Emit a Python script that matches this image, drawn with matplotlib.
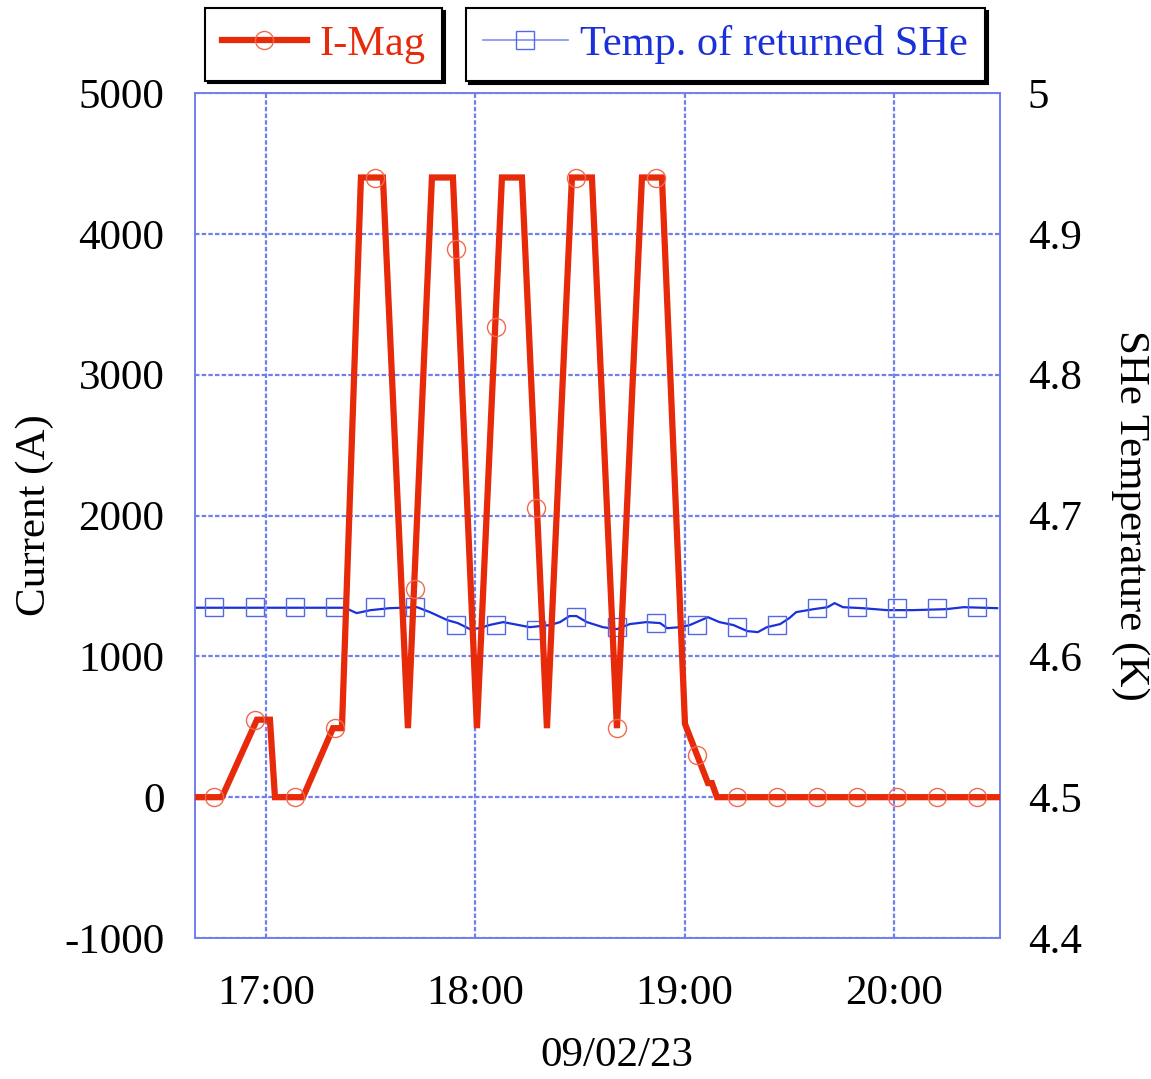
import numpy as np
import pandas as pd
import matplotlib
matplotlib.use('Agg')
import matplotlib.pyplot as plt
import matplotlib.dates as mdates
from matplotlib.lines import Line2D

DAY = '2023-02-09 '

# I-Mag trace (time, current in A)
imag_t = ['16:39:40', '16:47:23', '16:57:25', '17:01:09', '17:02:35', '17:10:37',
          '17:19:13', '17:21:47', '17:27:14', '17:33:32', '17:40:42', '17:47:35',
          '17:53:36', '18:00:29', '18:07:39', '18:13:23', '18:20:33', '18:27:43',
          '18:33:27', '18:40:37', '18:47:47', '18:53:31', '19:00:07', '19:06:42',
          '19:07:50', '19:09:17', '20:30:25']
imag_v = [0, 0, 550, 550, 0, 0,
          490, 490, 4400, 4400, 490, 4400,
          4400, 490, 4400, 4400, 490, 4400,
          4400, 490, 4400, 4400, 520, 100,
          100, 0, 0]

# temperature trace of returned SHe (time, K)
temp_t = ['16:39:40', '17:22:36', '17:26:00', '17:30:00', '17:35:30', '17:43:18',
          '17:47:00', '17:52:00', '17:55:00', '17:58:30', '18:01:18', '18:04:00',
          '18:08:00', '18:11:00', '18:15:40', '18:21:24', '18:24:18', '18:27:00',
          '18:29:00', '18:32:00', '18:36:36', '18:40:36', '18:44:18', '18:49:00',
          '18:53:00', '18:55:00', '18:58:42', '19:01:30', '19:06:42', '19:10:00',
          '19:14:00', '19:18:00', '19:21:00', '19:23:36', '19:27:24', '19:30:00',
          '19:32:00', '19:37:00', '19:41:00', '19:43:00', '19:45:24', '19:51:00',
          '19:58:00', '20:05:30', '20:15:00', '20:20:00', '20:29:36']
temp_v = [4.6345, 4.6345, 4.6307, 4.6328, 4.6342, 4.6349,
          4.6314, 4.6257, 4.6236, 4.6193, 4.6200, 4.6222,
          4.6243, 4.6229, 4.6207, 4.6222, 4.6243, 4.6286,
          4.6286, 4.6243, 4.6207, 4.6193, 4.6229, 4.6243,
          4.6236, 4.6200, 4.6207, 4.6222, 4.6278, 4.6243,
          4.6222, 4.6179, 4.6172, 4.6207, 4.6229, 4.6271,
          4.6314, 4.6335, 4.6349, 4.6378, 4.6349, 4.6342,
          4.6328, 4.6328, 4.6335, 4.6349, 4.6342]

# sampled marker points
mark_t = ['16:45:05', '16:56:50', '17:08:19', '17:19:47', '17:31:15', '17:42:43',
          '17:54:28', '18:05:56', '18:17:24', '18:28:52', '18:40:37', '18:51:48',
          '19:03:33', '19:15:01', '19:26:29', '19:37:57', '19:49:25', '20:00:53',
          '20:12:21', '20:23:50']
mark_imag = [0, 550, 0, 490, 4400, 1480, 3890, 3340, 2050, 4400,
             490, 4400, 300, 0, 0, 0, 0, 0, 0, 0]
mark_temp = [4.635, 4.635, 4.635, 4.635, 4.635, 4.635, 4.622, 4.622, 4.619, 4.628,
             4.621, 4.624, 4.622, 4.621, 4.622, 4.634, 4.635, 4.634, 4.634, 4.635]


def to_dt(lst):
    return pd.to_datetime([DAY + s for s in lst])


plt.rcParams['font.family'] = ['Liberation Serif', 'DejaVu Serif']
plt.rcParams['axes.unicode_minus'] = False

RED = '#e62a0a'
BLUE = '#1a30d8'
GRID = '#6f7ff0'
FS = 31

fig = plt.figure(figsize=(11.51, 10.79), dpi=100)
ax = fig.add_axes([195 / 1151, 1 - 938 / 1079, 805 / 1151, 845 / 1079])
ax2 = ax.twinx()

ax.set_ylim(-1000, 5000)
ax2.set_ylim(4.4, 5.0)
ax.set_xlim(pd.Timestamp(DAY + '16:39:40'), pd.Timestamp(DAY + '20:30:25'))

ax.set_yticks(np.arange(-1000, 5001, 1000))
ax2.set_yticks([4.4, 4.5, 4.6, 4.7, 4.8, 4.9, 5.0])
ax2.set_yticklabels(['4.4', '4.5', '4.6', '4.7', '4.8', '4.9', '5'])
ax.xaxis.set_major_locator(mdates.HourLocator())
ax.xaxis.set_major_formatter(mdates.DateFormatter('%H:%M'))

ax.grid(True, color=GRID, linestyle=(0, (2, 1)), linewidth=1.6)
for a in (ax, ax2):
    for s in a.spines.values():
        s.set_color(GRID)
        s.set_linewidth(1.2)
ax.tick_params(axis='y', length=0, pad=22, labelsize=FS)
ax.tick_params(axis='x', length=0, pad=26, labelsize=FS)
ax2.tick_params(axis='y', length=0, pad=20, labelsize=FS)

# temperature on right axis
ax2.plot(to_dt(temp_t), temp_v, color=BLUE, linewidth=1.6, zorder=2)
ax2.plot(to_dt(mark_t), mark_temp, linestyle='none', marker='s', markersize=13,
         markerfacecolor='none', markeredgecolor='#5468e6', markeredgewidth=1.0, zorder=2)

# current on left axis (draw above the twin axis)
ax.set_zorder(ax2.get_zorder() + 1)
ax.patch.set_visible(False)
ax.plot(to_dt(imag_t), imag_v, color=RED, linewidth=4.5, solid_joinstyle='miter', zorder=3)
ax.plot(to_dt(mark_t), mark_imag, linestyle='none', marker='o', markersize=13,
        markerfacecolor='none', markeredgecolor='#f06a50', markeredgewidth=1.0, zorder=4)

ax.set_ylabel('Current (A)', fontsize=FS)
ax2.set_ylabel('SHe Temperature (K)', fontsize=FS, rotation=270, va='center')
ax.set_xlabel('09/02/23', fontsize=FS)
ax.xaxis.set_label_coords((617 - 195) / 805, (938 - 1037) / 845)
ax.yaxis.set_label_coords((54 - 195) / 805, 0.5)
ax2.yaxis.set_label_coords((1130 - 195) / 805, 0.5)

h1 = Line2D([], [], color=RED, linewidth=4.5, marker='o', markersize=13,
            markerfacecolor='none', markeredgecolor='#f06a50', markeredgewidth=1.0)
h2 = Line2D([], [], color='#8090f0', linewidth=1.2, marker='s', markersize=13,
            markerfacecolor='none', markeredgecolor='#5468e6', markeredgewidth=1.0)

leg_kw = dict(loc='upper left', fontsize=30.5, frameon=True, fancybox=False,
              shadow={'color': 'black', 'alpha': 1.0}, borderaxespad=0,
              handlelength=2.0, handletextpad=0.3, borderpad=0.4, markerscale=1)
leg1 = fig.legend([h1], ['I-Mag'], bbox_to_anchor=(205 / 1151, 1 - 8 / 1079), **leg_kw)
leg2 = fig.legend([h2], ['Temp. of returned SHe'], bbox_to_anchor=(466 / 1151, 1 - 8 / 1079), **leg_kw)
for lg, c in ((leg1, RED), (leg2, BLUE)):
    lg.get_frame().set_edgecolor('black')
    lg.get_frame().set_linewidth(1.5)
    for t in lg.get_texts():
        t.set_color(c)

fig.savefig('out.png', dpi=100)
